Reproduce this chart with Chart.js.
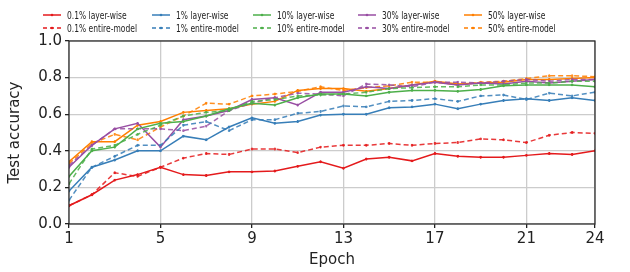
<!DOCTYPE html>
<html>
<head>
<meta charset="utf-8">
<script src="https://cdn.jsdelivr.net/npm/chart.js@4"></script>
<style>
  html, body { margin: 0; padding: 0; background: #fff; }
  #wrap { position: relative; width: 630px; height: 272px; }
  #legend { position: absolute; left: 0; top: 0; width: 630px; height: 40px;
            font-family: "DejaVu Sans", sans-serif; font-size: 10.5px; color: #222; }
  .item { position: absolute; white-space: nowrap; line-height: 12px; }
  .item svg { position: absolute; left: 0; top: 2px; }
  .item span { position: absolute; left: 24px; top: 0; display: inline-block;
               transform: scaleX(0.72); transform-origin: left center; }
</style>
</head>
<body>
<div id="wrap">
  <canvas id="myChart" width="630" height="272"></canvas>
  <div id="legend"></div>
</div>
<script>
// test accuracy per epoch
const epochs = Array.from({ length: 24 }, (_, i) => i + 1);
const xTicks = [1, 5, 9, 13, 17, 21, 24];
const rates = ["0.1%", "1%", "10%", "30%", "50%"];
const colors = ["#e41a1c", "#377eb8", "#4daf4a", "#984ea3", "#ff7f00"];

const layerWise01 = [0.10, 0.16, 0.24, 0.27, 0.31, 0.27, 0.265, 0.285, 0.285, 0.29, 0.315, 0.34, 0.305, 0.355, 0.365, 0.345, 0.385, 0.37, 0.365, 0.365, 0.375, 0.385, 0.38, 0.40];
const layerWise1 = [0.18, 0.31, 0.35, 0.40, 0.40, 0.48, 0.46, 0.53, 0.58, 0.55, 0.56, 0.595, 0.60, 0.60, 0.635, 0.64, 0.655, 0.63, 0.655, 0.675, 0.685, 0.675, 0.69, 0.675];
const layerWise10 = [0.26, 0.40, 0.42, 0.52, 0.55, 0.56, 0.59, 0.63, 0.66, 0.65, 0.69, 0.71, 0.71, 0.70, 0.72, 0.73, 0.73, 0.725, 0.735, 0.755, 0.76, 0.76, 0.76, 0.75];
const layerWise30 = [0.31, 0.43, 0.52, 0.55, 0.42, 0.57, 0.59, 0.62, 0.68, 0.69, 0.65, 0.72, 0.72, 0.75, 0.74, 0.76, 0.775, 0.76, 0.77, 0.765, 0.78, 0.77, 0.78, 0.79];
const layerWise50 = [0.34, 0.45, 0.45, 0.54, 0.56, 0.61, 0.62, 0.63, 0.655, 0.67, 0.73, 0.74, 0.74, 0.725, 0.74, 0.76, 0.78, 0.765, 0.77, 0.775, 0.79, 0.79, 0.795, 0.80];

const entire01 = [0.10, 0.16, 0.28, 0.26, 0.31, 0.36, 0.385, 0.38, 0.41, 0.41, 0.39, 0.42, 0.43, 0.43, 0.44, 0.43, 0.44, 0.445, 0.465, 0.46, 0.445, 0.485, 0.50, 0.495];
const entire1 = [0.13, 0.31, 0.37, 0.43, 0.43, 0.54, 0.56, 0.51, 0.57, 0.57, 0.605, 0.615, 0.645, 0.64, 0.67, 0.675, 0.685, 0.67, 0.70, 0.705, 0.68, 0.715, 0.70, 0.72];
const entire10 = [0.22, 0.41, 0.43, 0.49, 0.54, 0.59, 0.61, 0.62, 0.67, 0.68, 0.70, 0.705, 0.71, 0.72, 0.74, 0.745, 0.75, 0.75, 0.76, 0.76, 0.77, 0.77, 0.78, 0.78];
const entire30 = [0.32, 0.43, 0.52, 0.52, 0.52, 0.51, 0.535, 0.62, 0.66, 0.69, 0.715, 0.71, 0.70, 0.765, 0.76, 0.75, 0.775, 0.775, 0.77, 0.78, 0.79, 0.78, 0.79, 0.79];
const entire50 = [0.33, 0.44, 0.49, 0.46, 0.53, 0.59, 0.66, 0.655, 0.70, 0.71, 0.725, 0.75, 0.73, 0.745, 0.755, 0.775, 0.775, 0.76, 0.775, 0.78, 0.795, 0.81, 0.81, 0.805];

const layerWise = [layerWise01, layerWise1, layerWise10, layerWise30, layerWise50];
const entireModel = [entire01, entire1, entire10, entire30, entire50];

const datasets = [];
rates.forEach((r, i) => {
    datasets.push({
        label: r + " layer-wise",
        data: epochs.map((e, j) => ({ x: e, y: layerWise[i][j] })),
        borderColor: colors[i],
        backgroundColor: colors[i],
        borderWidth: 1.5,
        pointRadius: 1.3,
        pointStyle: "crossRot",
        pointBorderWidth: 1.5
    });
    datasets.push({
        label: r + " entire-model",
        data: epochs.map((e, j) => ({ x: e, y: entireModel[i][j] })),
        borderColor: colors[i] + "dd",
        backgroundColor: colors[i],
        borderWidth: 1.5,
        borderDash: [5, 3],
        pointRadius: 1.3,
        pointStyle: "crossRot",
        pointBorderWidth: 1.5
    });
});

// legend: 5 columns, layer-wise on top row, entire-model below
const legendX = [43, 152, 253, 358, 464];
const legendY = [9, 22];
const legend = document.getElementById("legend");
rates.forEach((r, i) => {
    [0, 1].forEach(row => {
        const d = document.createElement("div");
        d.className = "item";
        d.style.left = legendX[i] + "px";
        d.style.top = legendY[row] + "px";
        const dash = row === 1 ? 'stroke-dasharray="4,3"' : "";
        d.innerHTML = '<svg width="20" height="8"><line x1="0" y1="4" x2="18" y2="4" stroke="' + colors[i] +
            '" stroke-width="1.5" ' + dash + '/><circle cx="9" cy="4" r="1.3" fill="' + colors[i] + '"/></svg>' +
            '<span>' + r + (row === 0 ? " layer-wise" : " entire-model") + '</span>';
        legend.appendChild(d);
    });
});

// draws the dark frame round the plot area
const frame = {
    id: "frame",
    afterDraw(chart) {
        const a = chart.chartArea, c = chart.ctx;
        c.save();
        c.strokeStyle = "#222";
        c.lineWidth = 1.2;
        c.strokeRect(a.left, a.top, a.right - a.left, a.bottom - a.top);
        c.restore();
    }
};

const ctx = document.getElementById("myChart").getContext("2d");
new Chart(ctx, {
    type: "line",
    data: { datasets: datasets },
    plugins: [frame],
    options: {
        responsive: false,
        animation: false,
        layout: { padding: { top: 41, right: 35, left: 4, bottom: 3 } },
        plugins: { legend: { display: false }, tooltip: { enabled: false } },
        scales: {
            x: {
                type: "linear",
                min: 1,
                max: 24,
                afterBuildTicks: s => { s.ticks = xTicks.map(v => ({ value: v })); },
                grid: { color: "#cccccc", lineWidth: 1.3, tickColor: "#222", tickLength: 4 },
                border: { display: false },
                ticks: { color: "#222", font: { family: "DejaVu Sans", size: 15 }, padding: 2, maxRotation: 0 },
                title: { display: true, text: "Epoch", color: "#222", font: { family: "DejaVu Sans", size: 15 },
                         padding: { top: 1, bottom: 0 } }
            },
            y: {
                min: 0,
                max: 1,
                ticks: { stepSize: 0.2, color: "#222", font: { family: "DejaVu Sans", size: 15 }, padding: 3,
                         callback: v => v.toFixed(1) },
                grid: { color: "#cccccc", lineWidth: 1.3, tickColor: "#222", tickLength: 4 },
                border: { display: false },
                title: { display: true, text: "Test accuracy", color: "#222", font: { family: "DejaVu Sans", size: 15 }, padding: 2 },
                afterFit: s => { s.width = 65; }
            }
        }
    }
});
</script>
</body>
</html>
